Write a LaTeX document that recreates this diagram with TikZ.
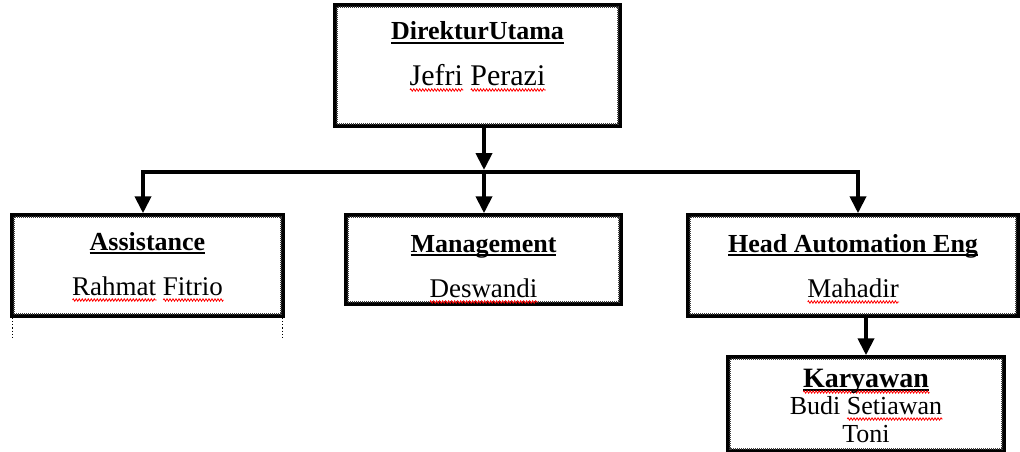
\documentclass[tikz,border=0pt]{standalone}
\usepackage{fontspec}
\setmainfont{Liberation Serif}
\usepackage{tikz}
\usetikzlibrary{arrows.meta,decorations.pathmorphing}
\newcommand{\typo}[1]{\setbox0\hbox{#1}\rlap{\tikz[baseline=0pt]\draw[red, line width=0.8pt, decorate, decoration={zigzag, amplitude=1.2pt, segment length=3pt}] (0pt,-5pt) -- (\wd0,-5pt);}#1}
\newcommand{\hdline}[1]{\setbox2\hbox{#1}\rlap{\rule[-4pt]{\wd2}{1.6pt}}#1}

\begin{document}
\begin{tikzpicture}[x=1pt, y=-1pt,
    box/.style={draw, line width=3.5pt, inner sep=0pt},
    innerframe/.style={line width=2pt, black!75, dash pattern=on 1pt off 1pt},
    ttl/.style={anchor=base, font=\fontsize{26}{30}\selectfont\bfseries},
    nm/.style={anchor=base, font=\fontsize{27}{30}\selectfont},
    conn/.style={line width=4pt, -{Triangle[length=17pt,width=16pt]}}]
  \useasboundingbox (0,0) rectangle (1020,452);
  % boxes
  \node[box, minimum width=285pt, minimum height=121pt] (direktur) at (477.5,65.5) {};
  \node[box, minimum width=271pt, minimum height=101pt] (assist) at (147.5,265.5) {};
  \node[box, minimum width=275pt, minimum height=89pt] (mgmt) at (483.5,259.5) {};
  \node[box, minimum width=330pt, minimum height=101pt] (head) at (853,265.5) {};
  \node[box, minimum width=276pt, minimum height=94pt] (karyawan) at (866,404) {};
  \foreach \n in {direktur,assist,mgmt,head,karyawan}
    \draw[innerframe] ([shift={(3.5pt,-3.5pt)}]\n.north west) rectangle ([shift={(-3.5pt,3.5pt)}]\n.south east);
  % dotted ends under assistance
  \draw[dotted, line width=1.2pt] ([xshift=2pt]assist.south west) -- ++(0pt,-22pt);
  \draw[dotted, line width=1.2pt] ([xshift=-2pt]assist.south east) -- ++(0pt,-22pt);
  % texts
  \node[ttl] (direktur-title) at (477.5,40) {\hdline{DirekturUtama}};
  \node[nm, font=\fontsize{30}{32}\selectfont] (direktur-name) at (477.5,85) {\typo{Jefri} \typo{Perazi}};
  \node[ttl] (assist-title) at (147.5,250) {\hdline{Assistance}};
  \node[nm] (assist-name) at (147.5,295) {\typo{Rahmat} \typo{Fitrio}};
  \node[ttl] (mgmt-title) at (483.5,252) {\hdline{Management}};
  \node[nm] (mgmt-name) at (483.5,297) {\typo{Deswandi}};
  \node[ttl] (head-title) at (853,252) {\hdline{Head Automation Eng}};
  \node[nm] (head-name) at (853,297) {\typo{Mahadir}};
  \node[ttl, font=\fontsize{28}{30}\selectfont\bfseries] (karyawan-title) at (866,387) {\hdline{\typo{Karyawan}}};
  \node[nm, font=\fontsize{26}{28}\selectfont] (karyawan-name1) at (866,414) {Budi \typo{Setiawan}};
  \node[nm, font=\fontsize{26}{28}\selectfont] (karyawan-name2) at (866,442) {Toni};
  % connectors
  \coordinate (bus) at (484,172);
  \coordinate (busL) at (143,172);
  \coordinate (busR) at (858,172);
  \draw[conn, shorten >=2pt] (direktur.south -| bus) -- (bus);
  \draw[conn, {Triangle[length=17pt,width=16pt]}-{Triangle[length=17pt,width=16pt]}, line join=miter]
    (assist.north -| busL) -- (busL) -- (busR) -- (head.north -| busR);
  \draw[conn] (bus) -- (mgmt.north -| bus);
  \draw[conn] (head.south -| karyawan.north) -- (karyawan.north);
\end{tikzpicture}
\end{document}
